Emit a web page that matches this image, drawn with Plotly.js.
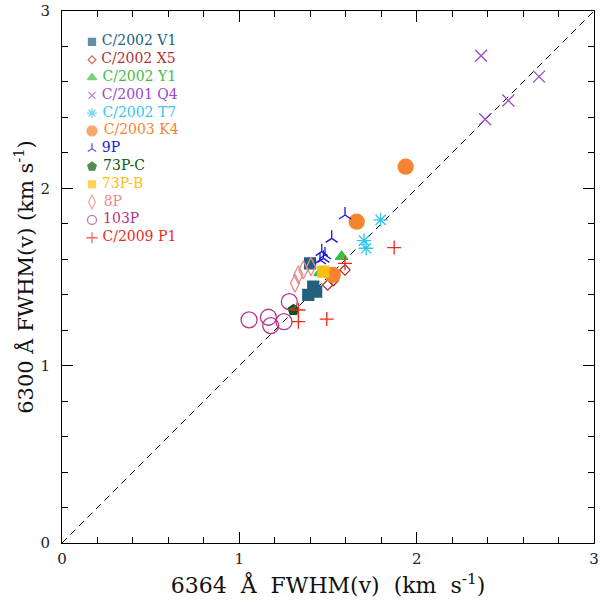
<!DOCTYPE html>
<html>
<head>
<meta charset="utf-8">
<script src="https://cdn.plot.ly/plotly-3.0.1.min.js"></script>
<style>
  html, body { margin: 0; padding: 0; background: #fff; }
  #chart { width: 600px; height: 603px; }
</style>
</head>
<body>
<div id="chart"></div>
<script>
// Comet names, in legend order
const comets = ['C/2002 V1', 'C/2002 X5', 'C/2002 Y1', 'C/2001 Q4', 'C/2002 T7', 'C/2003 K4',
                '9P', '73P-C', '73P-B', '8P', '103P', 'C/2009 P1'];

// 6364 A FWHM (x) and 6300 A FWHM (y), km/s
const v1_x = [1.389, 1.417, 1.433, 1.399];
const v1_y = [1.399, 1.446, 1.418, 1.577];
const x5_x = [1.498, 1.530, 1.596];
const x5_y = [1.455, 1.480, 1.540];
const y1_x = [1.577, 1.455];
const y1_y = [1.615, 1.523];
const q4_x = [2.363, 2.690, 2.517, 2.386];
const q4_y = [2.748, 2.630, 2.495, 2.390];
const t7_x = [1.797, 1.703, 1.715];
const t7_y = [1.822, 1.705, 1.662];
const k4_x = [1.938, 1.662, 1.527];
const k4_y = [2.122, 1.812, 1.512];
const p9_x = [1.596, 1.521, 1.465, 1.483, 1.474, 1.455];
const p9_y = [1.850, 1.718, 1.643, 1.624, 1.605, 1.596];
const p73c_x = [1.305];
const p73c_y = [1.314];
const p73b_x = [1.474];
const p73b_y = [1.530];
const p8_x = [1.314, 1.333, 1.361, 1.404];
const p8_y = [1.465, 1.512, 1.540, 1.558];
const p103_x = [1.055, 1.164, 1.177, 1.252, 1.282];
const p103_y = [1.258, 1.273, 1.226, 1.248, 1.361];
const p1_x = [1.873, 1.493, 1.333, 1.333, 1.596];
const p1_y = [1.666, 1.263, 1.314, 1.248, 1.577];

const xs = [v1_x, x5_x, y1_x, q4_x, t7_x, k4_x, p9_x, p73c_x, p73b_x, p8_x, p103_x, p1_x];
const ys = [v1_y, x5_y, y1_y, q4_y, t7_y, k4_y, p9_y, p73c_y, p73b_y, p8_y, p103_y, p1_y];

// style per comet
const colors = ['#22607f', '#b03030', '#44bb44', '#9a48c8', '#33c4ee', '#f58430',
                '#1818d8', '#0a5a0a', '#f7c010', '#e88a8a', '#b8358c', '#ee2a1a'];
const symbols = ['square', 'diamond-open', 'triangle-up', 'x-thin-open', 'asterisk-open', 'circle',
                 'y-up-open', 'pentagon', 'square', 'diamond-tall-open', 'circle-open', 'cross-thin-open'];
const sizes = [11, 8, 11, 12, 12, 15, 10, 11, 11, 13, 16, 10];
const legendSizes = [7, 6, 8, 7, 8, 10, 7, 9, 7, 10, 9, 8];

const serif = '"DejaVu Serif", "Liberation Serif", serif';

const traces = comets.map(function(name, i) {
    return {
        type: 'scatter',
        mode: 'markers',
        name: name,
        x: xs[i],
        y: ys[i],
        showlegend: false,
        marker: {
            symbol: symbols[i],
            color: colors[i],
            size: sizes[i],
            line: { color: colors[i], width: 1.3 }
        }
    };
});

// one-to-one line
traces.unshift({
    type: 'scatter',
    mode: 'lines',
    x: [0, 3],
    y: [0, 3],
    showlegend: false,
    line: { color: '#000', width: 1, dash: '7px,5px' }
});

// hand-made legend: one row per comet, drawn on a hidden overlay axis
traces.push({
    type: 'scatter',
    mode: 'markers+text',
    xaxis: 'x2',
    yaxis: 'y2',
    x: comets.map(() => 0),
    y: comets.map((c, i) => i),
    text: comets.map(c => ' ' + c),
    textposition: 'middle right',
    textfont: { family: serif, size: 14, color: colors },
    showlegend: false,
    hoverinfo: 'skip',
    marker: {
        symbol: symbols,
        color: colors,
        size: legendSizes,
        line: { color: colors, width: 1.3 }
    }
});

const axisBase = {
    range: [0, 3],
    showgrid: false,
    zeroline: false,
    showline: true,
    linecolor: '#000',
    linewidth: 1,
    mirror: 'allticks',
    ticks: 'inside',
    ticklen: 11,
    tickwidth: 1,
    tickcolor: '#000',
    dtick: 1,
    tick0: 0,
    minor: { dtick: 0.2, ticks: 'inside', ticklen: 6, tickwidth: 1, tickcolor: '#000' },
    tickfont: { family: serif, size: 15, color: '#222' },
    fixedrange: true
};

const layout = {
    width: 600,
    height: 603,
    margin: { l: 62, r: 6, t: 11, b: 60 },
    paper_bgcolor: '#fff',
    plot_bgcolor: '#fff',
    showlegend: false,
    xaxis: Object.assign({}, axisBase, {
        title: { text: '6364\u00a0 Å\u00a0 FWHM(v)\u00a0 (km\u00a0 s<sup>-1</sup>)', font: { family: serif, size: 22, color: '#111' }, standoff: 10 },
        ticklabelstandoff: 2
    }),
    yaxis: Object.assign({}, axisBase, {
        title: { text: '6300 Å FWHM(v) (km s<sup>-1</sup>)', font: { family: serif, size: 21, color: '#111' }, standoff: 1 },
        ticklabelstandoff: 8
    }),
    xaxis2: { overlaying: 'x', range: [-30, 502], visible: false, fixedrange: true },
    yaxis2: { overlaying: 'y', range: [28.15, -1.74], visible: false, fixedrange: true }
};

Plotly.newPlot('chart', traces, layout, { displayModeBar: false, staticPlot: true });
</script>
</body>
</html>
